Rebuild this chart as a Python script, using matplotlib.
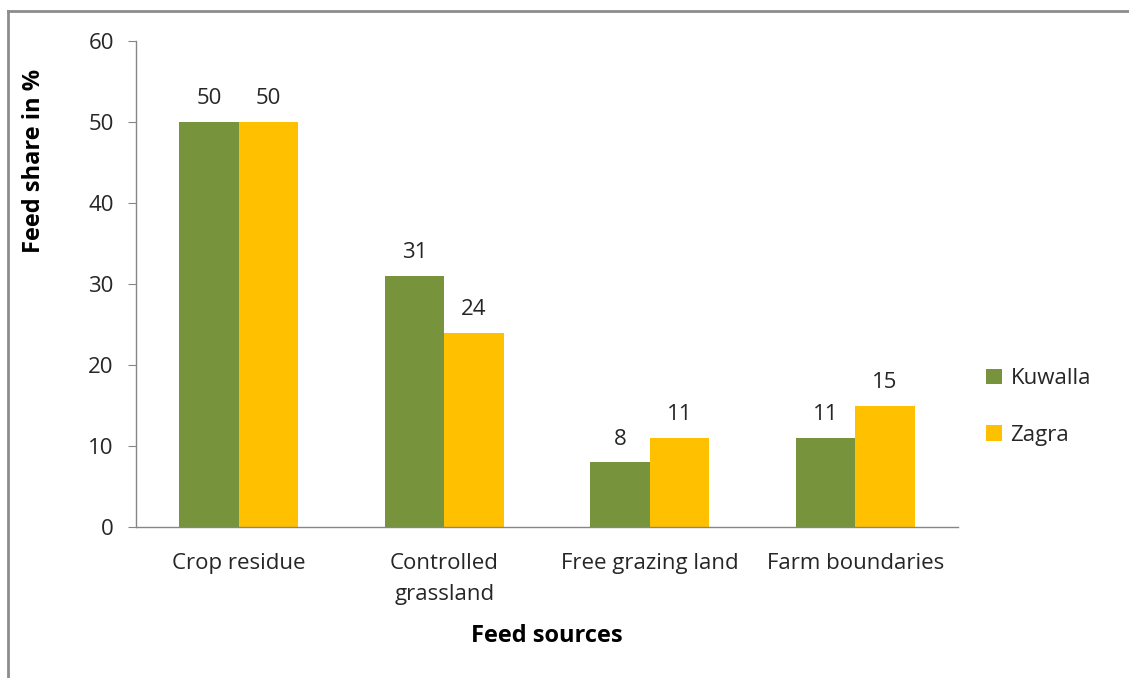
import matplotlib
matplotlib.use("Agg")
import matplotlib.pyplot as plt
import numpy as np
from matplotlib.lines import Line2D
from matplotlib.patches import Patch

categories = ["Crop residue", "Controlled\ngrassland", "Free grazing land", "Farm boundaries"]
kuwalla = [50, 31, 8, 11]
zagra = [50, 24, 11, 15]
series_names = ["Kuwalla", "Zagra"]
yticks = [0, 10, 20, 30, 40, 50, 60]

GREEN = "#77933C"
YELLOW = "#FFC000"
AXIS = "#868686"
TEXT = "#262626"
FS = 16
FS_TITLE = 17

plt.rcParams["font.family"] = ["Open Sans", "DejaVu Sans"]

W, H = 1129, 678
fig = plt.figure(figsize=(W / 100, H / 100), dpi=100)

# plot area in pixel coordinates
left, right, top, bottom = 136, 958, 41, 527
ax = fig.add_axes([left / W, 1 - bottom / H, (right - left) / W, (bottom - top) / H])

x = np.arange(len(categories))
bw = 0.29
b1 = ax.bar(x - bw / 2, kuwalla, bw, color=GREEN, label=series_names[0])
b2 = ax.bar(x + bw / 2, zagra, bw, color=YELLOW, label=series_names[1])

for bars, vals in ((b1, kuwalla), (b2, zagra)):
    for rect, v in zip(bars, vals):
        ax.annotate(f"{v}", (rect.get_x() + rect.get_width() / 2, v),
                    xytext=(0, 23), textcoords="offset pixels",
                    ha="center", va="center", fontsize=FS, color=TEXT)

ax.set_xlim(-0.5, len(categories) - 0.5)
ax.set_ylim(0, 60)
ax.set_yticks(yticks)
ax.set_xticks(x)
ax.set_xticklabels(categories, fontsize=FS, color=TEXT, linespacing=1.6)
ax.tick_params(axis="x", length=0, pad=19)
ax.tick_params(axis="y", length=6, color=AXIS, labelsize=FS, labelcolor=TEXT, pad=10)
for lbl in ax.get_xticklabels():
    lbl.set_verticalalignment("top")

for s in ("top", "right"):
    ax.spines[s].set_visible(False)
for s in ("left", "bottom"):
    ax.spines[s].set_color(AXIS)
    ax.spines[s].set_linewidth(1.0)

fig.text(34 / W, 1 - 161 / H, "Feed share in %", rotation=90, ha="center", va="center",
         fontsize=FS_TITLE, fontweight="bold", color="black")
fig.text(547 / W, 1 - 636 / H, "Feed sources", ha="center", va="center",
         fontsize=FS_TITLE, fontweight="bold", color="black")

handles = [Patch(facecolor=GREEN), Patch(facecolor=YELLOW)]
leg = fig.legend(handles, series_names, loc="center left",
                 bbox_to_anchor=(966 / W, 1 - 407 / H), frameon=False,
                 fontsize=FS, handlelength=0.7, handleheight=0.7,
                 handletextpad=0.4, labelspacing=1.6)
for t in leg.get_texts():
    t.set_color(TEXT)

# outer chart border (left and top edges)
fig.add_artist(Line2D([8 / W, 8 / W], [0, 1 - 11 / H], transform=fig.transFigure,
                      color="#8c8c8c", linewidth=2))
fig.add_artist(Line2D([8 / W, 1], [1 - 11 / H, 1 - 11 / H], transform=fig.transFigure,
                      color="#8c8c8c", linewidth=2))

fig.savefig("out.png", dpi=100)
